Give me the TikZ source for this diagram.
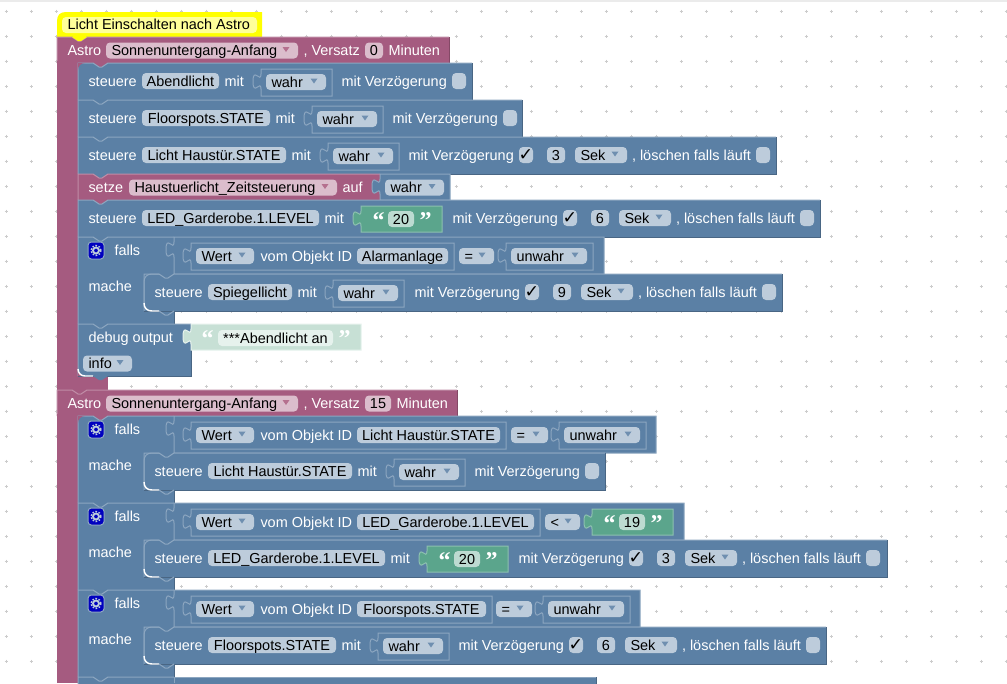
\documentclass[tikz,border=0pt]{standalone}
\usepackage{fontspec}
\setmainfont{Liberation Sans}
\newfontfamily\symfont{DejaVu Sans}
\newfontfamily\quotefont{Liberation Serif}
\definecolor{blockblue}{HTML}{5B80A5}
\definecolor{blockbluelight}{HTML}{8CA6C0}
\definecolor{blockbluedark}{HTML}{496684}
\definecolor{blockmaroon}{HTML}{A55B80}
\definecolor{blockmaroonlight}{HTML}{C08CA6}
\definecolor{blockmaroondark}{HTML}{844966}
\definecolor{blockgreen}{HTML}{5BA58C}
\definecolor{blockgreenlight}{HTML}{8CC0AF}
\definecolor{blockpale}{HTML}{C7E0D5}
\definecolor{fieldblue}{HTML}{BDCCDB}
\definecolor{fieldmaroon}{HTML}{DBBDCC}
\definecolor{fieldgreen}{HTML}{BDDBD1}
\definecolor{fieldpale}{HTML}{E6F2ED}
\definecolor{arrowblue}{HTML}{6F8FB0}
\definecolor{arrowmaroon}{HTML}{B5708F}
\definecolor{griddot}{HTML}{CCCCCC}
\definecolor{hatyellow}{HTML}{FFFF00}
\definecolor{hatfield}{HTML}{FFFF99}
\newcommand{\plainfield}[6]{
    \fill[fld=field#6] (#2,#3-8) rectangle (#4,#3+8);
    \node[val,anchor=center] (#1) at ({(#2+#4)/2},#3) {#5};
}
\newcommand{\dropfield}[6]{
    \fill[fld=field#6] (#2,#3-8) rectangle (#4,#3+8);
    \node[val] (#1) at (#2+5,#3) {#5};
    \fill[arrow#6] (#4-15.5,#3-3.5) -- (#4-8.5,#3-3.5) -- (#4-12,#3+1.5) -- cycle;
}
\newcommand{\checkfield}[4]{
    \fill[fld=fieldblue] (#2,#3-8) rectangle (#2+14,#3+8);
    \node[val,anchor=center] (#1) at (#2+7,#3) {#4};
}
% one block of a stack, #5 its colour, #6 the colour of the block above it
\newcommand{\stackrow}[6]{
    \fill[#5] (#1,#3) rectangle (#2,#4);
    \fill[#6] (#1+15,#3) -- (#1+21,#3+4) -- (#1+24,#3+4) -- (#1+30,#3) -- cycle;
    \draw[#5light] (#1,#4) -- (#1,#3) -- (#1+15,#3) -- (#1+21,#3+4) -- (#1+24,#3+4) -- (#1+30,#3) -- (#2,#3);
    \draw[#5dark] (#2,#3) -- (#2,#4) -- (#1,#4);
}
\newcommand{\valueblock}[6]{
    \path[fill=#5,draw=#6] (#1,#3+5) .. controls (#1,#3+15) and (#1-8,#3-3) .. (#1-8,#3+12.5)
        .. controls (#1-8,#3+28) and (#1,#3+10) .. (#1,#3+20)
        -- (#1,#4) -- (#2,#4) -- (#2,#3) -- (#1,#3) -- cycle;
}
\newcommand{\boolblock}[5]{
    \valueblock{#2}{#2+#4}{#3+6}{#3+33}{blockblue}{blockbluelight}
    \dropfield{#1}{#2+5}{#3+19}{#2+#4-6}{#5}{blue}
}
\newcommand{\stringblock}[4]{
    \valueblock{#2}{#2+81}{#3+6}{#3+32}{blockgreen}{blockgreenlight}
    \node[quo] (#1open) at (#2+11,#3+19) {“};
    \plainfield{#1}{#2+27}{#3+19}{#2+53}{#4}{green}
    \node[quo] (#1close) at (#2+58,#3+19) {”};
}
\newcommand{\steuerrow}[7]{
    \stackrow{#2}{#3}{#4}{#4+37}{blockblue}{#7}
    \node[lbl] (#1steuere) at (#2+10,#4+18) {steuere};
    \plainfield{#1id}{#2+64}{#4+18}{#6}{#5}{blue}
    \node[lbl] (#1mit) at (#6+5,#4+18) {mit};
}
\newcommand{\delayoff}[3]{
    \node[lbl] (#1verz) at (#2,#3) {mit Verzögerung};
    \checkfield{#1check}{#2+111}{#3}{}
}
\newcommand{\delayon}[4]{
    \node[lbl] (#1verz) at (#2,#3) {mit Verzögerung};
    \checkfield{#1check}{#2+111}{#3}{{\symfont\fontsize{13}{13}\selectfont ✓}}
    \plainfield{#1num}{#2+139}{#3}{#2+157}{#4}{blue}
    \dropfield{#1sek}{#2+167}{#3}{#2+219}{Sek}{blue}
    \node[lbl] (#1clr) at (#2+223.5,#3) {, löschen falls läuft};
    \checkfield{#1clrcheck}{#2+348}{#3}{}
}
\newcommand{\astrohead}[5]{
    \stackrow{57}{#3}{#2}{#2+26}{blockmaroon}{blockmaroon}
    \fill[blockmaroon] (57,#2+24) rectangle (77.5,#2+28);
    \node[lbl] (#1astro) at (67,#2+13) {Astro};
    \dropfield{#1event}{106}{#2+13.5}{298}{Sonnenuntergang-Anfang}{maroon}
    \node[lbl] (#1versatz) at (303,#2+13) {, Versatz};
    \plainfield{#1num}{365}{#2+13.5}{#5}{#4}{maroon}
    \node[lbl] (#1min) at (#5+5,#2+13) {Minuten};
}
% falls / mache frame, the compare row ends at #3
\newcommand{\fallsblock}[4]{
    \fill[blockblue] (78,#2) rectangle (174,#2+87);
    \stackrow{78}{174}{#2}{#2+87}{blockblue}{#4}
    \valueblock{174}{#3}{#2}{#2+37}{blockblue}{blockbluelight}
    \fill[gearblue] (88,#2+5) rectangle (104,#2+22);
    \draw[fieldblue,line width=1.4pt] (96,#2+13.5) circle[radius=3];
    \draw[fieldblue,line width=1.1pt,dash pattern=on 1.2pt off 1.2pt] (96,#2+13.5) circle[radius=5];
    \node[lbl] (#1falls) at (114,#2+13) {falls};
    \node[lbl] (#1mache) at (88,#2+49) {mache};
}
% inner corners of a block inside a falls frame
\newcommand{\innerrim}[1]{
    \draw[blockbluelight] (144,#1+29) -- (144,#1+8) .. controls (144,#1+3) and (147,#1) .. (152,#1) -- (159,#1);
    \draw[white,line width=1.1pt] (144,#1+29) .. controls (144,#1+34) and (147,#1+37) .. (152,#1+37) -- (159,#1+37);
    \draw[blockbluelight] (159,#1+37) -- (165,#1+41) -- (168,#1+41) -- (174,#1+37);
}
\newcommand{\wertblock}[4]{
    \valueblock{191}{#4}{#2+6}{#2+33}{blockblue}{blockbluelight}
    \dropfield{#1wert}{196}{#2+19}{254}{Wert}{blue}
    \node[lbl] (#1objekt) at (260,#2+19) {vom Objekt ID};
    \plainfield{#1id}{357}{#2+19}{#4-6}{#3}{blue}
}
\begin{document}
\begin{tikzpicture}[x=0.75pt,y=-0.75pt,line width=0.75pt,
                font=\fontsize{10.85}{13}\selectfont,
                lbl/.style={anchor=west,inner sep=0pt,text=white,text height=10pt,text depth=2pt},
                val/.style={lbl,text=black},
                quo/.style={anchor=west,inner sep=0pt,text=white,font=\quotefont\bfseries\fontsize{18}{18}\selectfont,text height=8pt,text depth=2pt,yshift=-4pt},
                fld/.style={fill=#1,rounded corners=3pt},
                gearblue/.style={fill=blue!75!black,rounded corners=2.5pt,draw=blockbluelight}
            ]
    \useasboundingbox (0,0) rectangle (1007,683);
    \fill[white] (0,0) rectangle (1007,683);
    \fill[black!8] (0,0) rectangle (1007,2);
    \foreach \px in {6,31,...,1006}
        \foreach \py in {11,36,...,686}
            \draw[griddot] (\px-1.5,\py) -- (\px+1.5,\py) (\px,\py-1.5) -- (\px,\py+1.5);

    % left rails
    \fill[blockmaroon] (57,37) rectangle (78,390);
    \fill[blockmaroon] (78,376) rectangle (108,390);
    \fill[blockmaroon] (57,390) rectangle (78,683);

    % comment on top
    \fill[hatyellow] (57,38) -- (57,21) .. controls (57,15) and (60,12) .. (66,12) -- (262,12) -- (262,37) -- (87,37) -- (81,41) -- (78,41) -- (72,37) -- cycle;
    \fill[fld=hatfield] (62,17) rectangle (257,33);
    \node[val] (comment) at (67,24.5) {Licht Einschalten nach Astro};

    % first group
    \astrohead{astroA}{37}{449}{0}{383}
    \fill[hatyellow] (72,37) -- (78,41) -- (81,41) -- (87,37) -- cycle;
    \steuerrow{abend}{78}{472}{63}{Abendlicht}{219}{blockmaroon}
    \boolblock{abendval}{261}{63}{71}{wahr}
    \delayoff{abend}{341}{81}
    \fill[blockmaroon] (78,63) -- (85,63) .. controls (81,63) and (78,66) .. (78,70) -- cycle;
    \steuerrow{floor}{78}{522}{100}{Floorspots.STATE}{270}{blockblue}
    \boolblock{floorval}{312}{100}{71}{wahr}
    \delayoff{floor}{392}{118}
    \steuerrow{haus}{78}{776}{137}{Licht Haustür.STATE}{286}{blockblue}
    \boolblock{hausval}{328}{137}{71}{wahr}
    \delayon{haus}{408}{155}{3}
    \stackrow{78}{380}{174}{200}{blockmaroon}{blockblue}
    \node[lbl] (setze) at (88,187) {setze};
    \dropfield{setzevar}{129}{187.5}{337}{Haustuerlicht\_Zeitsteuerung}{maroon}
    \node[lbl] (auf) at (342,187) {auf};
    \valueblock{380}{450}{174}{200}{blockblue}{blockbluelight}
    \dropfield{setzeval}{385}{187.5}{444}{wahr}{blue}
    \steuerrow{led}{78}{820}{200}{LED\_Garderobe.1.LEVEL}{319}{blockmaroon}
    \stringblock{ledval}{361}{200}{20}
    \delayon{led}{452}{218}{6}

    % alarm check
    \fallsblock{alarm}{237}{604}{blockblue}
    \wertblock{alarm}{237}{Alarmanlage}{454}
    \dropfield{alarmop}{459}{256}{494}{=}{blue}
    \boolblock{alarmval}{506}{237}{87}{unwahr}
    \steuerrow{spiegel}{144}{782}{274}{Spiegellicht}{292}{blockblue}
    \boolblock{spiegelval}{333}{274}{71}{wahr}
    \delayon{spiegel}{414}{292}{9}
    \innerrim{274}

    % debug
    \stackrow{78}{191}{324}{376}{blockblue}{blockblue}
    \node[lbl] (debug) at (88,337) {debug output};
    \valueblock{191}{361}{324}{350}{blockpale}{fieldpale}
    \node[quo] (debugopen) at (201,337) {“};
    \plainfield{debugtext}{218}{338}{333}{***Abendlicht an}{pale}
    \node[quo] (debugclose) at (338,337) {”};
    \dropfield{debuglevel}{83}{363.5}{132}{info}{blue}
    \fill[blockmaroon] (78,376) -- (78,369) .. controls (78,373) and (81,376) .. (85,376) -- cycle;
    \draw[white,line width=1.1pt] (78,369) .. controls (78,373) and (81,376) .. (85,376) -- (93,376);
    \fill[blockblue] (93,376) -- (99,380) -- (102,380) -- (108,376) -- cycle;

    % second group
    \astrohead{astroB}{390}{457}{15}{391}
    \fallsblock{haust}{416}{656}{blockmaroon}
    \fill[blockmaroon] (78,416) -- (85,416) .. controls (81,416) and (78,419) .. (78,423) -- cycle;
    \wertblock{haust}{416}{Licht Haustür.STATE}{506}
    \dropfield{haustop}{511}{435}{548}{=}{blue}
    \boolblock{haustval}{559}{416}{87}{unwahr}
    \steuerrow{haussw}{144}{605}{453}{Licht Haustür.STATE}{352}{blockblue}
    \boolblock{hausswval}{394}{453}{71}{wahr}
    \delayoff{haussw}{474}{471}
    \innerrim{453}

    \fallsblock{ledchk}{503}{684}{blockblue}
    \wertblock{ledchk}{503}{LED\_Garderobe.1.LEVEL}{540}
    \dropfield{ledchkop}{545}{522}{580}{<}{blue}
    \stringblock{ledchkval}{592}{503}{19}
    \steuerrow{ledsw}{144}{887}{540}{LED\_Garderobe.1.LEVEL}{385}{blockblue}
    \stringblock{ledswval}{427}{540}{20}
    \delayon{ledsw}{518}{558}{3}
    \innerrim{540}

    \fallsblock{floorchk}{590}{640}{blockblue}
    \wertblock{floorchk}{590}{Floorspots.STATE}{492}
    \dropfield{floorchkop}{496}{609}{532}{=}{blue}
    \boolblock{floorchkval}{543}{590}{87}{unwahr}
    \steuerrow{floorsw}{144}{826}{627}{Floorspots.STATE}{336}{blockblue}
    \boolblock{floorswval}{378}{627}{71}{wahr}
    \delayon{floorsw}{458}{645}{6}
    \innerrim{627}

    % next check, cut off by the page
    \stackrow{78}{174}{677}{690}{blockblue}{blockblue}
    \fill[blockblue] (174,677) rectangle (596,690);
    \draw[blockbluelight] (174,683) -- (174,677) -- (596,677);
    \draw[blockbluedark] (596,677) -- (596,690);
\end{tikzpicture}
\end{document}
